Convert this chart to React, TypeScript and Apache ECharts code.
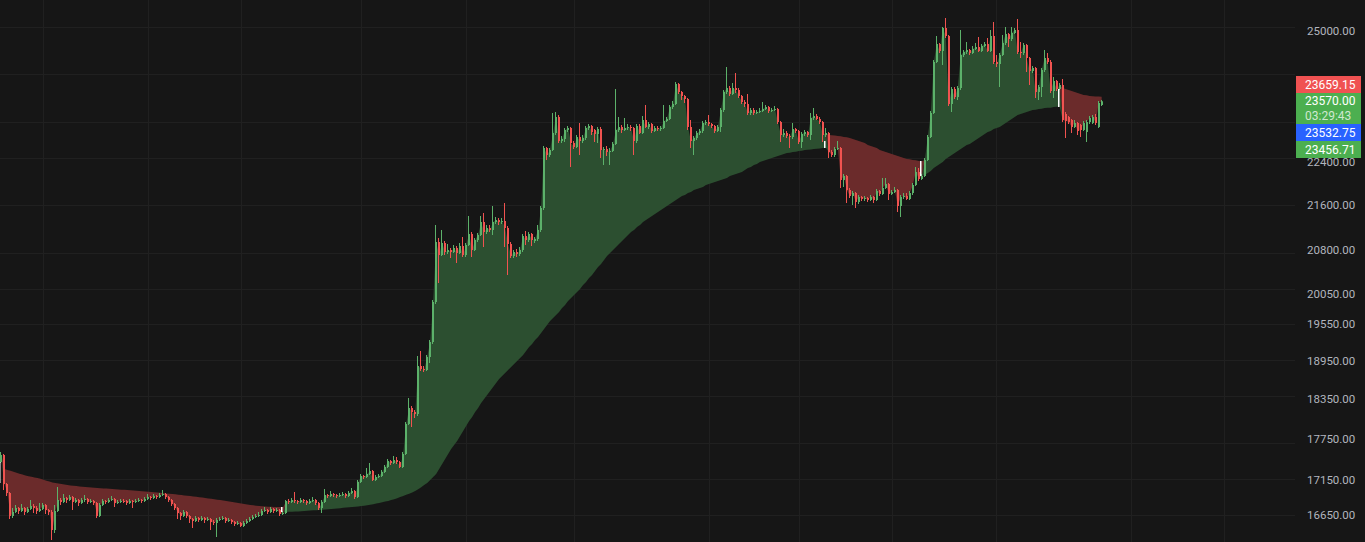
import React, { useEffect, useRef } from "react";
import * as echarts from "echarts";

// ---- candle data (one candle per slot) ----
const opens = [
17408,17511,17090,16961,16637,16693,16749,16707,16749,16693,
16735,16777,16749,16707,16735,16791,16721,16693,16442,16707,
16862,16833,16890,16862,16904,16833,16862,16819,16862,16876,
16833,16848,16819,16637,16791,16848,16833,16862,16876,16819,
16833,16848,16845,16819,16848,16833,16848,16862,16848,16876,
16904,16890,16919,16904,16933,16947,16904,16862,16805,16749,
16679,16637,16693,16637,16595,16567,16609,16581,16609,16581,
16595,16553,16539,16581,16595,16609,16567,16581,16553,16525,
16539,16498,16539,16567,16595,16623,16637,16651,16707,16721,
16693,16735,16707,16721,16665,16679,16848,16833,16862,16848,
16833,16862,16848,16819,16848,16862,16819,16749,16833,16933,
16919,16947,16933,16919,16933,16947,16919,16961,16990,16904,
17118,17205,17190,17234,17277,17147,17190,17205,17263,17336,
17423,17394,17438,17408,17336,17526,17973,18216,18155,18125,
18870,18823,18807,19013,19254,19912,20941,20713,20923,20766,
20801,20766,20836,20748,20871,20713,20888,21082,20801,20976,
21064,21295,21117,21188,21153,21295,21331,21295,21313,21188,
20906,20696,20766,20731,20801,21047,20976,21082,20958,20994,
21153,21547,22661,22528,22623,22948,23259,22794,22833,23006,
23045,22756,22680,22871,22794,22852,23045,23083,23006,22929,
23025,22623,22642,22585,22604,22737,23006,23064,23006,23045,
23064,23045,22794,23083,22948,23200,23064,23122,22986,23045,
23025,23045,23180,23219,23455,23514,23912,23752,23672,23613,
23064,22794,22852,22948,22986,23141,23161,23122,23083,22986,
23064,23395,23752,23832,23712,23832,23792,23672,23553,23514,
23337,23395,23337,23356,23376,23415,23455,23376,23395,23415,
23161,22909,22948,22890,22871,23025,22986,22775,22929,22967,
22909,23239,23278,23219,23161,22909,22948,22585,22528,22642,
22661,22060,22134,21875,21766,21820,21656,21747,21711,21729,
21692,21747,21692,21857,21802,21912,21986,21802,21839,21875,
21584,21747,21766,21711,21820,21968,22209,22078,22134,22434,
22871,23337,24358,24729,24584,25063,24895,23514,23812,23652,
23832,24501,24563,24604,24542,24625,24667,24584,24688,24729,
24584,24895,24358,24317,24501,24750,24937,24833,24958,25021,
24563,24542,24708,24440,24174,24235,23752,23852,24195,24440,
24358,23772,23972,23812,23892,23317,23259,23200,23064,23141,
23103,23006,22967,23161,23141,23259,23064,23494
];

const closes = [
17511,17090,16961,16637,16693,16749,16707,16749,16693,16735,
16777,16749,16707,16735,16791,16721,16693,16442,16707,16862,
16833,16890,16862,16904,16833,16862,16819,16862,16876,16833,
16848,16819,16637,16791,16848,16833,16862,16876,16819,16833,
16848,16845,16819,16848,16833,16848,16862,16848,16876,16904,
16890,16919,16904,16933,16947,16904,16862,16805,16749,16679,
16637,16693,16637,16595,16567,16609,16581,16609,16581,16595,
16553,16539,16581,16595,16609,16567,16581,16553,16525,16539,
16498,16539,16567,16595,16623,16637,16651,16707,16721,16693,
16735,16707,16721,16665,16679,16848,16833,16862,16848,16833,
16862,16848,16819,16848,16862,16819,16749,16833,16933,16919,
16947,16933,16919,16933,16947,16919,16961,16990,16904,17118,
17205,17190,17234,17277,17147,17190,17205,17263,17336,17423,
17394,17438,17408,17336,17526,17973,18216,18155,18125,18870,
18823,18807,19013,19254,19912,20941,20713,20923,20766,20801,
20766,20836,20748,20871,20713,20888,21082,20801,20976,21064,
21295,21117,21188,21153,21295,21331,21295,21313,21188,20906,
20696,20766,20731,20801,21047,20976,21082,20976,20994,21153,
21547,22661,22528,22623,22948,23259,22794,22833,23006,23045,
22756,22680,22871,22794,22852,23045,23083,22967,22929,23025,
22623,22642,22585,22604,22737,23006,23064,23006,23045,23064,
23045,22794,23083,22948,23200,23064,23122,22986,23045,23025,
23045,23180,23219,23455,23514,23912,23752,23672,23613,23064,
22794,22852,22948,22986,23141,23161,23122,23083,22986,23064,
23395,23752,23832,23712,23832,23792,23672,23553,23514,23337,
23395,23337,23356,23376,23415,23455,23376,23395,23415,23161,
22909,22948,22890,22871,23025,22986,22775,22929,22967,22909,
23239,23278,23219,23161,22909,22948,22585,22528,22642,22661,
22060,22134,21875,21766,21820,21656,21747,21711,21729,21692,
21747,21692,21857,21802,21912,21986,21802,21839,21875,21584,
21747,21766,21711,21820,21968,22209,22078,22134,22434,22871,
23337,24358,24729,24584,25063,24895,23514,23812,23652,23832,
24501,24563,24604,24542,24625,24667,24584,24688,24729,24584,
24895,24358,24317,24501,24750,24937,24833,24958,25021,24563,
24542,24708,24440,24174,24235,23752,23852,24195,24440,24358,
23772,23972,23812,23892,23200,23180,23161,23064,23141,22986,
23006,23141,23161,23239,23259,23141,23533,23570
];

const highs = [
17555,17526,17104,16975,16749,16791,16763,16805,16763,16763,
16862,16805,16777,16819,16819,16805,16735,16721,16791,17047,
16890,16947,16904,16933,16919,16890,16876,16890,16933,16890,
16876,16862,16833,16819,16876,16862,16890,16919,16890,16862,
16876,16876,16862,16876,16862,16876,16890,16876,16904,16947,
16919,16947,16933,16961,17004,16961,16919,16876,16819,16763,
16693,16721,16707,16651,16609,16637,16623,16637,16623,16623,
16609,16581,16609,16623,16637,16623,16609,16595,16567,16567,
16553,16567,16595,16623,16651,16665,16693,16735,16763,16735,
16763,16749,16749,16735,16707,16862,16876,16890,16975,16862,
16890,16876,16862,16876,16904,16876,16833,16862,17018,16947,
16990,16961,16947,16961,16975,16961,16990,17033,17004,17147,
17234,17219,17321,17394,17292,17219,17234,17292,17365,17452,
17438,17496,17482,17423,17555,18003,18370,18247,18186,19029,
19109,18870,19045,19286,19945,21242,21011,21153,20958,20906,
20836,20888,20871,20923,21029,20923,21403,21117,21011,21100,
21403,21457,21242,21242,21584,21385,21367,21367,21638,21224,
20941,20801,20818,20853,21082,21135,21117,21100,21029,21242,
21584,22699,22680,22661,23337,23356,23298,22890,23045,23083,
23064,22794,22909,23141,22909,23083,23122,23103,23025,23064,
23064,22680,22699,22661,22775,23812,23259,23103,23239,23122,
23103,23064,23122,23122,23278,23494,23161,23141,23083,23083,
23083,23494,23259,23494,23573,23952,23932,23772,23692,23633,
23200,22890,22986,23025,23180,23200,23298,23141,23103,23103,
23435,23792,24256,23872,23932,24134,23832,23692,23593,23712,
23435,23435,23395,23435,23553,23494,23474,23435,23474,23435,
23180,23025,22986,22929,23141,23045,23006,22967,23006,22986,
23337,23435,23317,23259,23180,23045,22967,22623,22680,22794,
22680,22171,22153,21912,21857,21839,21784,21766,21766,21747,
21784,21766,21894,21875,22097,22097,22004,21875,21931,21894,
21784,21820,21820,21857,22004,22302,22283,22171,22471,22909,
23376,24399,24895,24750,25084,25275,24916,23852,23852,23872,
25021,24604,24770,24625,24688,24750,24875,24729,24770,24854,
25021,25190,24501,24542,24916,25084,24958,25084,25063,25253,
24770,24750,24729,24460,24276,24256,23892,24235,24604,24542,
24399,24053,23992,23932,24012,23356,23278,23219,23200,23161,
23122,23180,23200,23278,23298,23317,23573,23593
];

const lows = [
17394,17004,16919,16595,16609,16679,16665,16693,16651,16679,
16721,16679,16665,16693,16721,16665,16651,16305,16401,16693,
16791,16819,16819,16848,16721,16819,16777,16805,16833,16805,
16819,16791,16609,16623,16777,16805,16819,16848,16763,16805,
16819,16819,16791,16805,16749,16819,16833,16819,16833,16862,
16862,16876,16876,16890,16919,16876,16833,16777,16721,16595,
16581,16623,16609,16539,16470,16553,16553,16567,16539,16567,
16442,16512,16346,16567,16581,16539,16553,16525,16498,16512,
16484,16484,16525,16553,16581,16609,16623,16637,16693,16665,
16679,16679,16693,16637,16651,16665,16805,16819,16819,16805,
16819,16819,16791,16805,16833,16791,16721,16679,16819,16890,
16904,16904,16890,16904,16919,16890,16904,16947,16876,16890,
17104,17162,17176,17219,17133,17133,17176,17190,17248,17321,
17365,17379,17379,17321,17321,17511,17958,17928,18064,18094,
18791,18775,18791,18918,19222,19879,20232,20696,20713,20731,
20661,20748,20575,20731,20679,20679,20871,20679,20783,20941,
21047,20853,21082,21117,21064,21260,21242,21260,20853,20369,
20661,20661,20679,20696,20766,20888,20941,20871,20923,20958,
21117,21511,22434,22490,22604,22909,22756,22756,22775,22967,
22302,22642,22661,22528,22756,22813,23006,22909,22775,22756,
22471,22339,22509,22339,22585,22718,22967,22948,22986,23006,
22986,22528,22756,22929,22929,23045,23025,22948,22967,22986,
22986,23025,23161,23200,23415,23494,23712,23593,23533,23006,
22661,22528,22813,22909,22948,23103,23083,23045,22948,22967,
22967,23356,23712,23672,23692,23732,23633,23514,23455,23298,
23298,23298,23317,23337,23356,23395,23337,23356,23376,23122,
22775,22871,22852,22661,22833,22948,22737,22661,22890,22871,
22813,23200,23200,23122,22775,22871,22471,22490,22490,22623,
21912,21931,21638,21729,21602,21547,21620,21674,21674,21656,
21674,21638,21674,21766,21784,21894,21692,21784,21820,21475,
21385,21711,21692,21692,21784,21949,22041,22060,22116,22415,
22852,23317,24337,24542,24297,24854,23474,23356,23613,23593,
23792,24460,24522,24501,24522,24604,24563,24563,24667,24563,
24563,24317,24256,23852,24481,24708,24667,24791,24937,24522,
24440,24501,24154,23892,24134,23633,23593,23652,24154,24317,
23732,23633,23772,23792,23161,22852,23122,22948,23045,22909,
22871,22986,22775,23122,23122,23103,23045,23474
];

// ---- trailing line (the indicator whose band is filled) ----
const trail = [
17408,17306,17292,17279,17265,17251,17238,17225,17213,17202,
17192,17183,17174,17163,17150,17137,17124,17112,17103,17095,
17088,17081,17075,17069,17064,17059,17054,17049,17045,17041,
17038,17035,17032,17029,17026,17023,17020,17017,17014,17011,
17008,17005,17002,16999,16996,16993,16990,16986,16982,16978,
16974,16970,16966,16962,16958,16954,16950,16946,16941,16936,
16931,16926,16921,16916,16911,16906,16901,16895,16889,16883,
16877,16871,16865,16859,16852,16845,16838,16831,16824,16817,
16810,16803,16796,16790,16785,16780,16776,16772,16769,16766,
16764,16763,16762,16762,16762,
16693,16694,16696,16698,16700,16703,
16706,16709,16712,16715,16718,16721,
16724,16727,16730,16734,
16738,16742,16746,16750,
16754,16758,16762,
16766,16770,16775,16780,16787,16794,16802,16811,16819,16828,16838,16848,
16860,16873,16887,16902,16918,16934,16950,16966,16988,17014,
17044,17076,17104,17147,17190,17234,17306,17379,17452,17526,
17600,17659,17718,17793,17868,17943,18018,18079,18155,18216,
18293,18354,18416,18478,18540,18603,18665,18712,18759,18807,
18855,18902,18949,18997,19045,19109,19174,19222,19286,19335,
19400,19466,19531,19597,19646,19696,19746,19812,19862,19929,
19979,20029,20080,20131,20198,20249,20317,20369,20437,20506,
20558,20627,20696,20748,20801,20853,20906,20958,21011,21064,
21117,21153,21206,21242,21295,21331,21367,21403,21439,21475,
21511,21547,21584,21620,21656,21692,21729,21766,21784,21820,
21839,21875,21894,21912,21931,21968,21986,22004,22023,22041,
22060,22078,22097,22134,22153,22171,22190,22209,22246,22283,
22302,22339,22358,22396,22415,22434,22452,22471,22490,22509,
22528,22547,22566,22570,22585,22590,22604,22608,22623,22627,
22630,22642,22646,22650,22661,22664,
22909,22905,22901,22890,22884,22871,22864,22852,22833,22813,
22794,22775,22756,22718,22699,22680,22661,22623,22604,22585,
22566,22547,22528,22509,22490,22471,22452,22445,22434,22428,
22415,22410,
22153,22190,22227,22283,22321,22358,22396,22452,22490,22528,
22566,22604,22642,22680,22718,22737,22775,22813,22852,22890,
22929,22967,22986,23025,23045,23064,23103,23141,23180,23219,
23259,23298,23317,23337,23356,23376,23395,23400,23415,23420,
23435,23438,23441,23455,23458,23460,
23832,23812,23792,23772,23752,23732,23712,23692,23685,23672,
23668,23664,23661,23659.15
];

// ---- flip markers (white bars where the trailing line jumps) ----
const flipIndex = [0, 94, 275, 307, 353];
const flipTop = [17408, 16763, 22794, 22415, 23812];
const flipBottom = [17104, 16693, 22661, 22134, 23455];

// ---- axes ----
const gridPrices = [25000, 24000, 23200, 22400, 21600, 20800, 20050, 19550, 18950, 18350, 17750, 17150, 16650];
const labelPrices = [25000, 24000, 22400, 21600, 20800, 20050, 19550, 18950, 18350, 17750, 17150, 16650];
const timeGridSlots = [14, 49, 80, 120, 155, 191, 236, 266, 297, 332, 377, 408];
const SLOT_COUNT = 432;
const PRICE_MIN = 16276.4;
const PRICE_MAX = 25659.4;

// ---- price tags on the right scale ----
const otherTagValues = [23532.75, 23456.71];
const countdown = "03:29:43";

const COLORS = {
  bg: "#161616",
  grid: "#202020",
  up: "#5cb16a",
  down: "#f05350",
  fillUp: "#2c4f30",
  fillDown: "#6b2b2b",
  axisText: "#b2b5be",
  tagRed: "#f05252",
  tagGreen: "#4caf50",
  tagBlue: "#2962ff",
};

export default function App() {
  const ref = useRef<HTMLDivElement>(null);

  useEffect(() => {
    if (!ref.current) return;
    const chart = echarts.init(ref.current, null, { renderer: "svg" });
    const ln = Math.log;
    const slots = Array.from({ length: SLOT_COUNT }, (_, i) => String(i));

    const candleData = closes.map((c, i) => [i, ln(opens[i]), ln(c), ln(lows[i]), ln(highs[i])]);
    const bandBase = closes.map((c, i) => ln(Math.min(c, trail[i])));
    const bandUp = closes.map((c, i) => Math.max(0, ln(c) - ln(trail[i])));
    const bandDown = closes.map((c, i) => Math.max(0, ln(trail[i]) - ln(c)));
    const flipData = flipIndex.map((ix, k) => [ix, ln(flipTop[k]), ln(flipBottom[k])]);

    const labelLog = labelPrices.map((t) => ln(t));
    const gridLog = gridPrices.map((t) => ln(t));
    const fmt = (v: number) => {
      let best = 0;
      for (let k = 1; k < labelLog.length; k++) {
        if (Math.abs(labelLog[k] - v) < Math.abs(labelLog[best] - v)) best = k;
      }
      return labelPrices[best].toFixed(2);
    };

    const lastClose = closes[closes.length - 1];
    const lastTrail = trail[trail.length - 1];
    const font = "12px Roboto, sans-serif";
    const tagX = 1296;
    const tagW = 65;
    const tags = [
      { y: 76, h: 17, color: COLORS.tagRed, lines: [{ t: lastTrail.toFixed(2), c: "#ffffff", cy: 84.5 }] },
      {
        y: 93, h: 31, color: COLORS.tagGreen,
        lines: [
          { t: lastClose.toFixed(2), c: "#ffffff", cy: 101 },
          { t: countdown, c: "#cfe8d0", cy: 116 },
        ],
      },
      { y: 124, h: 17, color: COLORS.tagBlue, lines: [{ t: otherTagValues[0].toFixed(2), c: "#ffffff", cy: 132.5 }] },
      { y: 141, h: 17, color: COLORS.tagGreen, lines: [{ t: otherTagValues[1].toFixed(2), c: "#ffffff", cy: 149.5 }] },
    ];
    const graphic: any[] = [];
    tags.forEach((tg) => {
      graphic.push({
        type: "rect",
        z: 100,
        shape: { x: tagX, y: tg.y, width: tagW, height: tg.h },
        style: { fill: tg.color },
      });
      tg.lines.forEach((line) => {
        graphic.push({
          type: "text",
          z: 101,
          x: tagX + 9,
          y: line.cy,
          style: { text: line.t, fill: line.c, font, align: "left", verticalAlign: "middle" },
        });
      });
    });

    const option: any = {
      animation: false,
      backgroundColor: COLORS.bg,
      textStyle: { fontFamily: "Roboto, sans-serif" },
      grid: { left: 0, right: 70, top: 0, bottom: 0 },
      xAxis: {
        type: "category",
        data: slots,
        boundaryGap: true,
        show: false,
      },
      yAxis: {
        type: "value",
        position: "right",
        min: ln(PRICE_MIN),
        max: ln(PRICE_MAX),
        axisLine: { show: false },
        axisTick: { show: false },
        splitLine: { show: false },
        axisLabel: {
          customValues: labelLog,
          formatter: fmt,
          color: COLORS.axisText,
          fontFamily: "Roboto, sans-serif",
          fontSize: 11.5,
          margin: 12,
          align: "left",
        },
      },
      graphic,
      series: [
        {
          name: "base",
          type: "line",
          stack: "band",
          data: bandBase,
          symbol: "none",
          silent: true,
          z: 1,
          lineStyle: { width: 0, opacity: 0 },
          markLine: {
            silent: true,
            z: 1,
            symbol: ["none", "none"],
            label: { show: false },
            lineStyle: { color: COLORS.grid, width: 1, type: "solid" },
            data: [
              ...gridLog.map((v) => ({ yAxis: v })),
              ...timeGridSlots.map((s) => ({ xAxis: String(s) })),
            ],
          },
        },
        {
          name: "above",
          type: "line",
          stack: "band",
          data: bandUp,
          symbol: "none",
          silent: true,
          z: 2,
          lineStyle: { width: 0, opacity: 0 },
          areaStyle: { color: COLORS.fillUp, opacity: 1 },
        },
        {
          name: "below",
          type: "line",
          stack: "band",
          data: bandDown,
          symbol: "none",
          silent: true,
          z: 2,
          lineStyle: { width: 0, opacity: 0 },
          areaStyle: { color: COLORS.fillDown, opacity: 1 },
        },
        {
          name: "price",
          type: "custom",
          z: 3,
          silent: true,
          data: candleData,
          encode: { x: 0, y: [1, 2, 3, 4] },
          renderItem: (params: any, api: any) => {
            const i = api.value(0);
            const o = api.value(1);
            const c = api.value(2);
            const po = api.coord([i, o]);
            const pc = api.coord([i, c]);
            const pl = api.coord([i, api.value(3)]);
            const ph = api.coord([i, api.value(4)]);
            const color = c >= o ? COLORS.up : COLORS.down;
            const left = Math.round(po[0]) - 1;
            const top = Math.min(po[1], pc[1]);
            const bottom = Math.max(po[1], pc[1]);
            return {
              type: "group",
              children: [
                {
                  type: "rect",
                  shape: { x: left, y: ph[1], width: 1, height: Math.max(1, pl[1] - ph[1]) },
                  style: { fill: color },
                },
                {
                  type: "rect",
                  shape: { x: left, y: top, width: 2, height: Math.max(1, bottom - top) },
                  style: { fill: color },
                },
              ],
            };
          },
        },
        {
          name: "flip",
          type: "custom",
          z: 4,
          silent: true,
          data: flipData,
          encode: { x: 0, y: [1, 2] },
          renderItem: (params: any, api: any) => {
            const p1 = api.coord([api.value(0), api.value(1)]);
            const p2 = api.coord([api.value(0), api.value(2)]);
            return {
              type: "rect",
              shape: { x: Math.round(p1[0]) - 2, y: p1[1], width: 1.5, height: p2[1] - p1[1] },
              style: { fill: "#ffffff" },
            };
          },
        },
      ],
    };

    chart.setOption(option);
    return () => chart.dispose();
  }, []);

  return (
    <div
      ref={ref}
      style={{ position: "fixed", left: 0, top: 0, width: 1365, height: 542 }}
    />
  );
}
